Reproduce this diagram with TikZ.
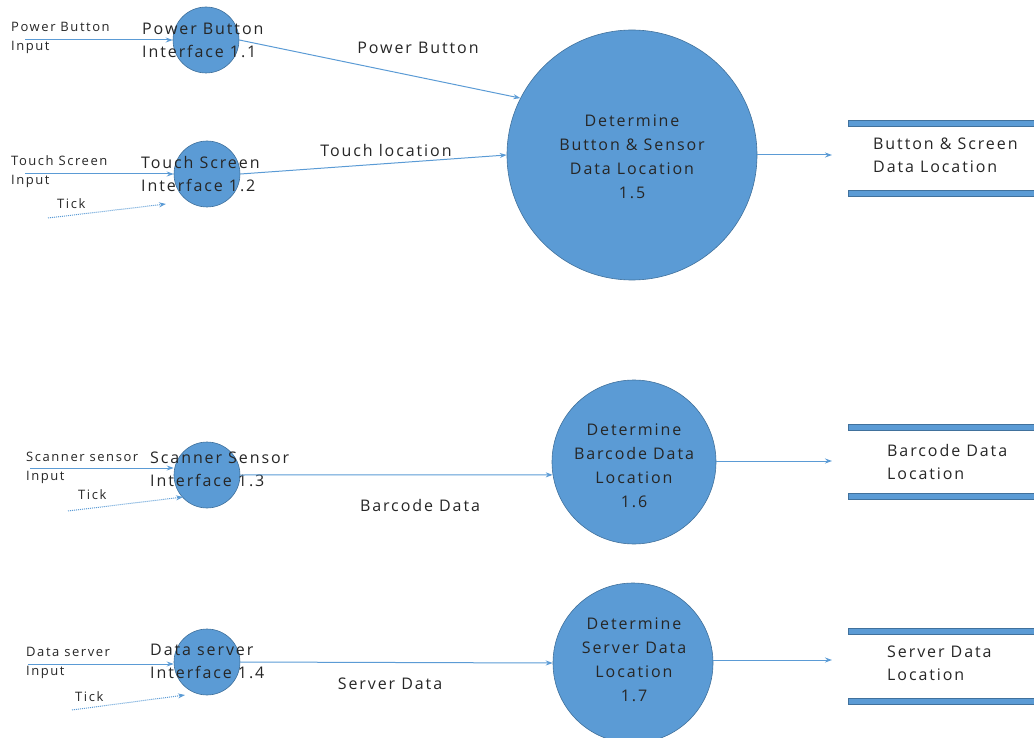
\documentclass[tikz,border=0pt]{standalone}
\usepackage{fontspec}
\setmainfont{Open Sans}[LetterSpace=12]
\usetikzlibrary{arrows.meta}
\definecolor{procfill}{HTML}{5B9BD5}
\definecolor{procline}{HTML}{41719C}
\definecolor{flowc}{HTML}{5B9BD5}
\definecolor{txt}{HTML}{262626}

\begin{document}
\begin{tikzpicture}[x=1pt,y=-1pt,>={Stealth[length=7pt,width=5pt]},
  proc/.style={circle,draw=procline,fill=procfill,inner sep=0pt,line width=0.6pt},
  flow/.style={->,draw=flowc,line width=1pt},
  tickflow/.style={->,draw=flowc,line width=1pt,densely dotted},
  lbl/.style={font=\fontsize{16}{23}\selectfont,align=left,inner sep=0pt,text=txt},
  clbl/.style={font=\fontsize{16}{24}\selectfont,align=center,inner sep=0pt,text=txt},
  small/.style={font=\fontsize{13}{19}\selectfont,align=left,inner sep=0pt,text=txt},
  bar/.style={draw=procline,fill=procfill,line width=0.6pt}]
% ---- page frame ----
\useasboundingbox (0,0) rectangle (1034,738);
% ---- interface processes ----
\node[proc,minimum size=66pt] (p11) at (206,40) {};
\node[proc,minimum size=66pt] (p12) at (207,174) {};
\node[proc,minimum size=66pt] (p13) at (207,475) {};
\node[proc,minimum size=66pt] (p14) at (207,662) {};
% ---- determine processes ----
\node[proc,minimum size=250pt] (p15) at (632,155) {};
\node[proc,minimum size=164pt] (p16) at (634,462) {};
\node[proc,minimum size=160pt] (p17) at (633,663) {};
\node[clbl] (t15) at (632,157) {Determine\\Button \& Sensor\\Data Location\\1.5};
\node[clbl] (t16) at (634,466) {Determine\\Barcode Data\\Location\\1.6};
\node[clbl] (t17) at (634,660) {Determine\\Server Data\\Location\\1.7};
% ---- external inputs ----
\coordinate (in11) at (25,40);
\coordinate (in12) at (25,174);
\coordinate (in13) at (30,468);
\coordinate (in14) at (28,664);
\draw[flow] (in11) -- (p11.west);
\draw[flow] (in12) -- (p12.west);
\draw[flow] (in13) -- (p13.west |- in13);
\draw[flow] (in14) -- (p14.west |- in14);
\node[small,anchor=west] (e11) at (11,38) {Power Button\\Input};
\node[small,anchor=west] (e12) at (11,172) {Touch Screen\\Input};
\node[small,anchor=west] (e13) at (26,468) {Scanner sensor\\Input};
\node[small,anchor=west] (e14) at (26,663) {Data server\\Input};
% ---- ticks ----
\foreach \nm/\xa/\ya/\xb/\yb in {12/48/218/166/204, 13/68/511/183/497, 14/72/710/185/695} {
  \coordinate (ta\nm) at (\xa,\ya);
  \coordinate (tb\nm) at (\xb,\yb);
  \draw[tickflow] (ta\nm) -- (tb\nm);}
\node[small,anchor=west] (k12) at (57,204) {Tick};
\node[small,anchor=west] (k13) at (78,495) {Tick};
\node[small,anchor=west] (k14) at (75,697) {Tick};
% ---- interface labels (over the circles) ----
\node[lbl,anchor=west] (l11) at (142,40) {Power Button\\Interface 1.1};
\node[lbl,anchor=west] (l12) at (141,174) {Touch Screen\\Interface 1.2};
\node[lbl,anchor=west] (l13) at (150,469) {Scanner Sensor\\Interface 1.3};
\node[lbl,anchor=west] (l14) at (150,661) {Data server\\Interface 1.4};
% ---- flows between processes ----
\draw[flow] (p11.east) -- (p15.153);
\draw[flow] (p12.east) -- (p15.west);
\draw[flow] (p13.east) -- (p16.189);
\draw[flow] (p14.east) -- (p17.west);
\node[lbl,anchor=center] (f1) at (418,48) {Power Button};
\node[lbl,anchor=center] (f2) at (386,151) {Touch location};
\node[lbl,anchor=center] (f3) at (420,505) {Barcode Data};
\node[lbl,anchor=center] (f4) at (390,684) {Server Data};
% ---- data stores ----
\foreach \nm/\yt/\yb/\yc in {1/123/193/155, 2/427/496/461, 3/631/701/660} {
  \filldraw[bar] (848,\yt-3) rectangle (1036,\yt+3);
  \filldraw[bar] (848,\yb-3) rectangle (1036,\yb+3);
  \coordinate (ds\nm) at (832,\yc);}
\node[lbl,anchor=west] (s1) at (873,155) {Button \& Screen\\Data Location};
\node[lbl,anchor=west] (s2) at (887,462) {Barcode Data\\Location};
\node[lbl,anchor=west] (s3) at (887,663) {Server Data\\Location};
\draw[flow] (p15.east) -- (ds1);
\draw[flow] (p16.east |- ds2) -- (ds2);
\draw[flow] (p17.east |- ds3) -- (ds3);
\end{tikzpicture}
\end{document}
